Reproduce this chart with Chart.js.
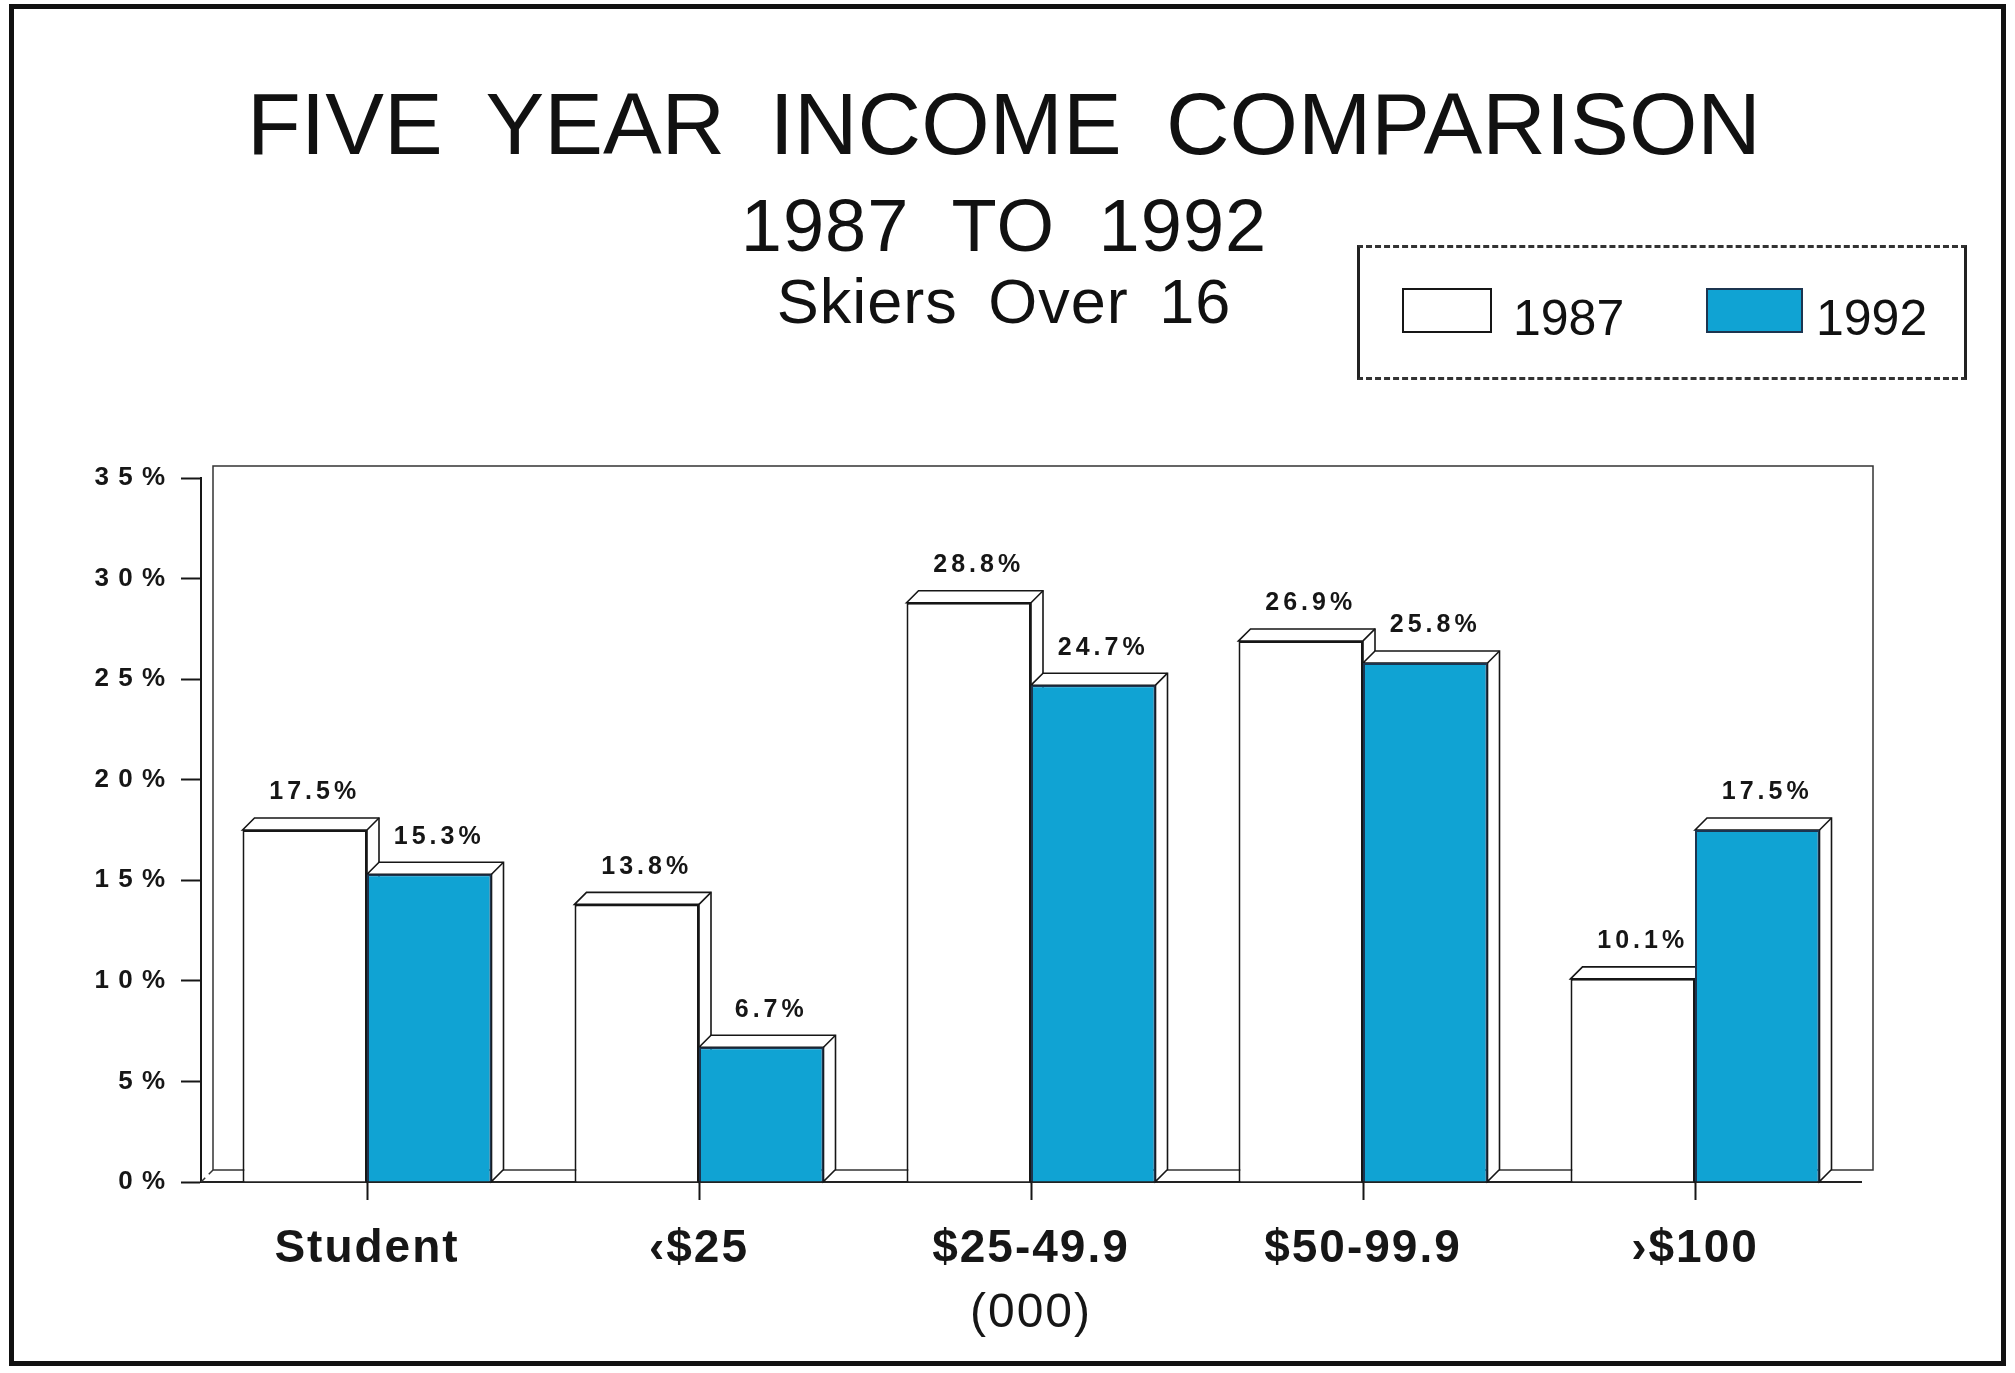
<!DOCTYPE html>
<html>
<head>
<meta charset="utf-8">
<title>Five Year Income Comparison</title>
<script src="https://cdn.jsdelivr.net/npm/chart.js@4.4.1/dist/chart.umd.min.js"></script>
<style>
  html, body { margin: 0; padding: 0; background: #fff; }
  #page {
    position: relative; width: 2015px; height: 1373px; overflow: hidden;
    background: #fff; color: #111;
    font-family: "Liberation Sans", Arial, Helvetica, sans-serif;
  }
  #frame {
    position: absolute; left: 9px; top: 4px; width: 1987px; height: 1352px;
    border: 5px solid #111;
  }
  .title { position: absolute; left: 0; width: 2008px; text-align: center; white-space: nowrap; }
  #t1 { top: 80px; font-size: 88px; line-height: 88px; word-spacing: 20px; }
  #t2 { top: 189px; font-size: 74px; line-height: 74px; word-spacing: 22px; letter-spacing: 1px; }
  #t3 { top: 270px; font-size: 63px; line-height: 63px; word-spacing: 12px; letter-spacing: 1px; }
  #legend {
    position: absolute; left: 1357px; top: 245px; width: 604px; height: 129px;
    border-top: 3px dashed #333; border-bottom: 3px dashed #333;
    border-left: 3px solid #222; border-right: 3px solid #222;
  }
  .swatch { position: absolute; top: 288px; height: 41px; border: 2px solid #222; }
  .legtext { position: absolute; top: 293px; font-size: 50px; line-height: 50px; }
  #chart { position: absolute; left: 0; top: 0; width: 2015px; height: 1373px; }
</style>
</head>
<body>
<div id="page">
  <canvas id="chart" width="2015" height="1373"></canvas>
  <div id="frame"></div>
  <div class="title" id="t1">FIVE YEAR INCOME COMPARISON</div>
  <div class="title" id="t2">1987 TO 1992</div>
  <div class="title" id="t3">Skiers Over 16</div>
  <div id="legend"></div>
  <div class="swatch" id="sw0" style="left:1402px;width:86px;"></div>
  <div class="legtext" id="lt0" style="left:1513px;"></div>
  <div class="swatch" id="sw1" style="left:1706px;width:93px;"></div>
  <div class="legtext" id="lt1" style="left:1816px;"></div>
</div>
<script>
// data
const categories = ['Student', '\u2039$25', '$25-49.9', '$50-99.9', '\u203A$100'];
const seriesNames = ['1987', '1992'];
const values1987 = [17.5, 13.8, 28.8, 26.9, 10.1];
const values1992 = [15.3, 6.7, 24.7, 25.8, 17.5];
const yTicks = [0, 5, 10, 15, 20, 25, 30, 35];
const axisTitle = '(000)';

const FONT = '"Liberation Sans", Arial, Helvetica, sans-serif';
const INK = '#161616';
const BLUE = '#10A3D3';
const fills = ['#ffffff', BLUE];
const edges = [INK, '#1c3550'];
const DEPTH = 12; // pseudo 3d offset

// legend
seriesNames.forEach((name, i) => {
  const sw = document.getElementById('sw' + i);
  sw.style.background = fills[i];
  sw.style.borderColor = edges[i];
  document.getElementById('lt' + i).textContent = name;
});

const spaced = s => String(s).split('').join('\u2009');

const boxes3d = {
  id: 'boxes3d',
  beforeDraw(chart) {
    chart.ctx.letterSpacing = '2px';
  },
  beforeDatasetsDraw(chart) {
    const { ctx, chartArea: a } = chart;
    ctx.save();
    ctx.letterSpacing = '0px';
    // back wall + floor edge
    ctx.strokeStyle = '#333';
    ctx.lineWidth = 1.5;
    ctx.strokeRect(a.left + DEPTH, a.top - DEPTH, a.width, a.height);
    ctx.setLineDash([6, 5]);
    ctx.beginPath();
    ctx.moveTo(a.left, a.bottom);
    ctx.lineTo(a.left + DEPTH, a.bottom - DEPTH);
    ctx.stroke();
    ctx.setLineDash([]);

    // tops and sides of the bars
    for (let i = 0; i < categories.length; i++) {
      chart.data.datasets.forEach((ds, di) => {
        const bar = chart.getDatasetMeta(di).data[i];
        const { x, y, base, width } = bar.getProps(['x', 'y', 'base', 'width'], true);
        const l = x - width / 2, r = x + width / 2;
        ctx.fillStyle = '#fff';
        ctx.strokeStyle = INK;
        ctx.lineWidth = 1.6;
        ctx.beginPath();
        ctx.moveTo(l, y);
        ctx.lineTo(l + DEPTH, y - DEPTH);
        ctx.lineTo(r + DEPTH, y - DEPTH);
        ctx.lineTo(r + DEPTH, base - DEPTH);
        ctx.lineTo(r, base);
        ctx.lineTo(r, y);
        ctx.closePath();
        ctx.fill();
        ctx.stroke();
        ctx.beginPath();
        ctx.moveTo(r, y);
        ctx.lineTo(r + DEPTH, y - DEPTH);
        ctx.stroke();
      });
    }
    ctx.restore();
  },
  afterDatasetsDraw(chart) {
    const { ctx } = chart;
    ctx.save();
    ctx.font = 'bold 25px ' + FONT;
    ctx.letterSpacing = '4px';
    ctx.fillStyle = INK;
    ctx.textAlign = 'center';
    ctx.textBaseline = 'bottom';
    chart.data.datasets.forEach((ds, di) => {
      chart.getDatasetMeta(di).data.forEach((bar, i) => {
        const { x, y } = bar.getProps(['x', 'y'], true);
        ctx.fillText(ds.data[i].toFixed(1) + '%', x + DEPTH / 2 + 4, y - DEPTH - 13);
      });
    });
    ctx.restore();
  }
};

new Chart(document.getElementById('chart'), {
  type: 'bar',
  data: {
    labels: categories,
    datasets: [
      { label: seriesNames[0], data: values1987, backgroundColor: fills[0], borderColor: edges[0], borderWidth: 2 },
      { label: seriesNames[1], data: values1992, backgroundColor: fills[1], borderColor: edges[1], borderWidth: 2 }
    ]
  },
  options: {
    responsive: false,
    animation: false,
    devicePixelRatio: 1,
    categoryPercentage: 0.75,
    barPercentage: 1.0,
    layout: { padding: { top: 478, left: 51, right: 154, bottom: 26 } },
    plugins: {
      legend: { display: false },
      title: { display: false },
      tooltip: { enabled: false }
    },
    scales: {
      x: {
        offset: true,
        grid: {
          display: true, drawOnChartArea: false, drawTicks: true, offset: false,
          tickLength: 18, tickWidth: 2, tickColor: INK
        },
        border: { display: true, color: '#222', width: 2, dash: [18, 8, 4, 8] },
        ticks: {
          color: INK, autoSkip: false, maxRotation: 0, padding: 22,
          font: { family: FONT, size: 46, weight: 'bold' }
        },
        title: {
          display: true, text: axisTitle, color: INK,
          font: { family: FONT, size: 48 }, padding: { top: 0, bottom: 4 }
        },
        afterFit: s => { s.height = 165; }
      },
      y: {
        min: 0,
        max: 35,
        afterBuildTicks: s => { s.ticks = yTicks.map(v => ({ value: v })); },
        grid: {
          drawOnChartArea: false, drawTicks: true,
          tickLength: 20, tickWidth: 2, tickColor: INK
        },
        border: { display: true, color: INK, width: 2 },
        ticks: {
          color: INK, padding: 14,
          font: { family: FONT, size: 26, weight: 'bold' },
          callback: v => spaced(v + '%')
        },
        afterFit: s => { s.width = 150; }
      }
    }
  },
  plugins: [boxes3d]
});
</script>
</body>
</html>
